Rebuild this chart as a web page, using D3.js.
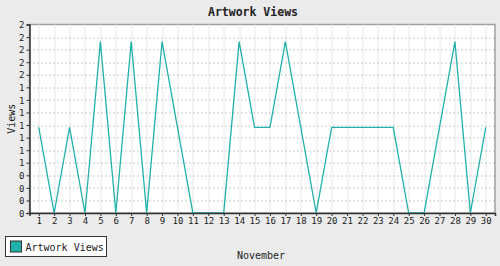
<!DOCTYPE html>
<html>
<head>
<meta charset="utf-8">
<script src="https://cdn.jsdelivr.net/npm/d3@7"></script>
<style>
  body { margin: 0; background: #ebebeb; }
  text { font-family: "DejaVu Sans Mono", monospace; fill: #222; }
</style>
</head>
<body>
<svg id="chart" width="500" height="266"></svg>
<script>
// data
var days = d3.range(1, 31);
var views = [1, 0, 1, 0, 2, 0, 2, 0, 2, 1, 0, 0, 0, 2, 1, 1, 2, 1, 0, 1,
             1, 1, 1, 1, 0, 0, 1, 2, 0, 1];
var seriesName = 'Artwork Views';
var yMax = 2.2;
var yTickCount = 16;

var svg = d3.select('#chart');
var margin = { left: 29.5, right: 5, top: 24.5, bottom: 53 };
var width = 500 - margin.left - margin.right;
var height = 266 - margin.top - margin.bottom;

svg.append('rect').attr('width', 500).attr('height', 266).attr('fill', '#ebebeb');

var g = svg.append('g').attr('transform', 'translate(' + margin.left + ',' + margin.top + ')');

var x = d3.scalePoint().domain(days).range([0, width]).padding(0.6);
var y = d3.scaleLinear().domain([0, yMax]).range([height, 0]);
var yTicks = d3.range(yTickCount).map(function (i) { return yMax * i / (yTickCount - 1); });

// plot background + border
g.append('rect').attr('width', width).attr('height', height)
  .attr('fill', '#fff').attr('stroke', '#a0a0a0').attr('stroke-width', 1.5);

// vertical grid
g.selectAll('.vgrid').data(days).enter().append('line')
  .attr('x1', function (d) { return Math.round(x(d)) + 0.5; })
  .attr('x2', function (d) { return Math.round(x(d)) + 0.5; })
  .attr('y1', 0).attr('y2', height)
  .attr('stroke', '#e8e8e8').attr('stroke-width', 1);

// horizontal dotted grid
g.selectAll('.hgrid').data(yTicks.slice(1, -1)).enter().append('line')
  .attr('x1', 0).attr('x2', width)
  .attr('y1', function (d) { return Math.round(y(d)) + 0.5; })
  .attr('y2', function (d) { return Math.round(y(d)) + 0.5; })
  .attr('stroke', '#999').attr('stroke-width', 1).attr('stroke-dasharray', '1,3');

// line
var line = d3.line()
  .x(function (d, i) { return x(days[i]); })
  .y(function (d) { return y(d); });

g.append('path').datum(views)
  .attr('d', line)
  .attr('fill', 'none')
  .attr('stroke', '#20b2aa')
  .attr('stroke-width', 1.3);

// axes
var xAxis = g.append('g').attr('transform', 'translate(0,' + height + ')')
  .call(d3.axisBottom(x).tickSize(3).tickPadding(2));
var yAxis = g.append('g')
  .call(d3.axisLeft(y).tickValues(yTicks).tickSize(3).tickPadding(2)
    .tickFormat(function (d) { return Math.round(d); }));

[xAxis, yAxis].forEach(function (a) {
  a.select('.domain').attr('stroke', '#333').attr('stroke-width', 1.5);
  a.selectAll('.tick line').attr('stroke', '#333');
  a.selectAll('.tick text').style('font-size', '9px').attr('fill', '#222');
});
yAxis.selectAll('.tick text').attr('dy', '0.35em');

// title
svg.append('text').attr('x', 253).attr('y', 16)
  .attr('text-anchor', 'middle')
  .style('font-size', '11.5px').style('font-weight', 'bold')
  .text('Artwork Views');

// axis titles
svg.append('text').attr('x', 261).attr('y', 259)
  .attr('text-anchor', 'middle').style('font-size', '10px')
  .text('November');

svg.append('text')
  .attr('transform', 'translate(15,' + (margin.top + height / 2) + ') rotate(-90)')
  .attr('text-anchor', 'middle').style('font-size', '10px')
  .text('Views');

// legend
var legend = svg.append('g').attr('transform', 'translate(5.5,236.5)');
legend.append('rect').attr('width', 101).attr('height', 20)
  .attr('fill', '#fff').attr('stroke', '#333').attr('stroke-width', 1);
legend.append('rect').attr('x', 5).attr('y', 4.5).attr('width', 11).attr('height', 11)
  .attr('fill', '#20b2aa').attr('stroke', '#333');
legend.append('text').attr('x', 20).attr('y', 14)
  .style('font-size', '10px').text(seriesName);
</script>
</body>
</html>
